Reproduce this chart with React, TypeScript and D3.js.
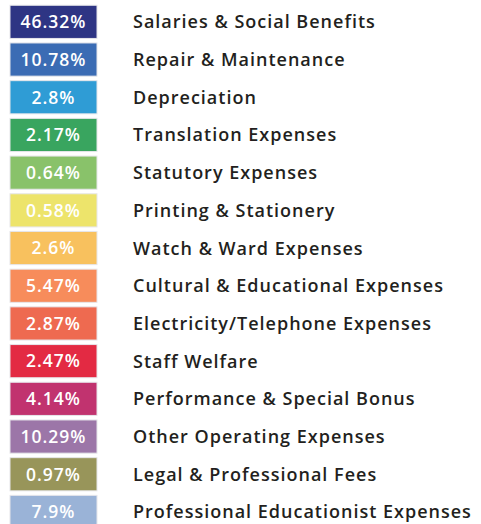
import React, { useRef, useEffect } from "react";
import * as d3 from "d3";

const categories = [
  "Salaries & Social Benefits",
  "Repair & Maintenance",
  "Depreciation",
  "Translation Expenses",
  "Statutory Expenses",
  "Printing & Stationery",
  "Watch & Ward Expenses",
  "Cultural & Educational Expenses",
  "Electricity/Telephone Expenses",
  "Staff Welfare",
  "Performance & Special Bonus",
  "Other Operating Expenses",
  "Legal & Professional Fees",
  "Professional Educationist Expenses",
];
const percentLabels = [
  "46.32%", "10.78%", "2.8%", "2.17%", "0.64%", "0.58%", "2.6%",
  "5.47%", "2.87%", "2.47%", "4.14%", "10.29%", "0.97%", "7.9%",
];
const colors = [
  "#2e3584", "#3b6cb4", "#2f9cd5", "#39a55f", "#89c26a", "#ede46b", "#f8c15e",
  "#f78c5b", "#ee6a50", "#e32a43", "#c1336f", "#9c76a8", "#98955a", "#9ab3d7",
];

const W = 481;
const H = 524;

export default function App() {
  const ref = useRef<SVGSVGElement>(null);
  useEffect(() => {
    const svg = d3.select(ref.current);
    svg.selectAll("*").remove();
    const y = d3
      .scaleBand<string>()
      .domain(categories)
      .range([3, 3 + 37.7 * categories.length])
      .paddingInner(0.12)
      .paddingOuter(0.06);
    const g = svg
      .selectAll("g.row")
      .data(categories)
      .join("g")
      .attr("class", "row")
      .attr("transform", (d) => `translate(0,${y(d)})`);
    g.append("rect")
      .attr("x", 10)
      .attr("y", 0)
      .attr("width", 87)
      .attr("height", y.bandwidth())
      .attr("fill", (_d, i) => colors[i])
      .attr("stroke", "#e6e6ea")
      .attr("stroke-width", 1);
    g.append("text")
      .attr("x", 53.5)
      .attr("y", y.bandwidth() / 2)
      .attr("dy", "0.36em")
      .attr("text-anchor", "middle")
      .attr("fill", "#ffffff")
      .attr("font-family", "'Open Sans', sans-serif")
      .attr("font-weight", 600)
      .attr("font-size", 17.5)
      .attr("letter-spacing", 1)
      .text((_d, i) => percentLabels[i]);
    g.append("text")
      .attr("x", 133)
      .attr("y", y.bandwidth() / 2)
      .attr("dy", "0.36em")
      .attr("fill", "#231f20")
      .attr("font-family", "'Open Sans', sans-serif")
      .attr("font-weight", 600)
      .attr("font-size", 18)
      .attr("letter-spacing", 1.0)
      .text((d) => d);
  }, []);
  return (
    <svg
      ref={ref}
      width={W}
      height={H}
      style={{ position: "absolute", left: 0, top: 0, background: "#fff" }}
    />
  );
}
